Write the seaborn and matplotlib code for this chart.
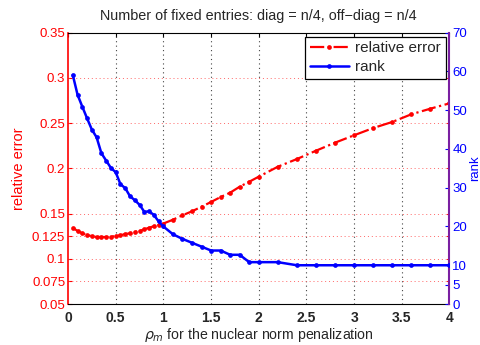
import numpy as np
import pandas as pd
import matplotlib
matplotlib.use("Agg")
import matplotlib.pyplot as plt
from matplotlib.lines import Line2D
import seaborn as sns

# penalization parameter values
rho = [0.05, 0.10, 0.15, 0.20, 0.25, 0.30, 0.35, 0.40, 0.45, 0.50,
       0.55, 0.60, 0.65, 0.70, 0.75, 0.80, 0.85, 0.90, 0.95, 1.00,
       1.1, 1.2, 1.3, 1.4, 1.5, 1.6, 1.7, 1.8, 1.9, 2.0,
       2.2, 2.4, 2.6, 2.8, 3.0, 3.2, 3.4, 3.6, 3.8, 4.0]

rel_error = [0.1344, 0.1307, 0.1282, 0.1263, 0.1249, 0.1241, 0.1241, 0.1241, 0.1244, 0.1252,
             0.1260, 0.1274, 0.1282, 0.1296, 0.1307, 0.1326, 0.1344, 0.1360, 0.1374, 0.1390,
             0.1432, 0.1481, 0.1525, 0.1576, 0.1628, 0.1683, 0.1731, 0.1797, 0.1852, 0.1908,
             0.2018, 0.2103, 0.2195, 0.2284, 0.2366, 0.2446, 0.2513, 0.2598, 0.2660, 0.2719]

rank = [59.1, 54.0, 50.9, 47.9, 45.0, 43.0, 38.9, 37.0, 35.1, 34.0,
        30.9, 29.9, 27.8, 26.8, 25.6, 23.8, 23.9, 23.0, 21.3, 20.0,
        18.0, 16.8, 15.8, 14.8, 13.8, 13.8, 12.7, 12.7, 10.8, 10.8,
        10.8, 10.0, 10.0, 10.0, 10.0, 10.0, 10.0, 10.0, 10.0, 10.0]

x_ticks = [0, 0.5, 1, 1.5, 2, 2.5, 3, 3.5, 4]
x_ticklabels = ["0", "0.5", "1", "1.5", "2", "2.5", "3", "3.5", "4"]
err_ticks = [0.05, 0.075, 0.1, 0.125, 0.15, 0.2, 0.25, 0.3, 0.35]
err_ticklabels = ["0.05", "0.075", "0.1", "0.125", "0.15", "0.2", "0.25", "0.3", "0.35"]
rank_ticks = [0, 5, 10, 20, 30, 40, 50, 60, 70]
rank_ticklabels = ["0", "5", "10", "20", "30", "40", "50", "60", "70"]

df = pd.DataFrame({"rho": rho, "err": rel_error, "rank": rank})

sns.set_style("white")
plt.rcParams["font.family"] = ["Liberation Sans", "DejaVu Sans"]

RED = "#ff0000"
BLUE = "#0000ff"
PURPLE = "#7a1fa2"

fig = plt.figure(figsize=(4.81, 3.45), dpi=100)
ax = fig.add_axes([0.1414, 0.1188, 0.7931, 0.7864])
ax2 = ax.twinx()

sns.lineplot(data=df, x="rho", y="err", ax=ax, color=RED, linestyle="-.",
             linewidth=1.6, marker="o", markersize=3.4, markeredgewidth=0,
             legend=False, zorder=3)
sns.lineplot(data=df, x="rho", y="rank", ax=ax2, color=BLUE, linestyle="-",
             linewidth=1.8, marker="o", markersize=3.4, markeredgewidth=0,
             legend=False, zorder=3)

ax.set_xlim(0, 4)
ax.set_ylim(0.05, 0.35)
ax2.set_ylim(0, 70)

ax.set_xticks(x_ticks)
ax.set_xticklabels(x_ticklabels, fontsize=10, fontweight="bold")
ax.set_yticks(err_ticks)
ax.set_yticklabels(err_ticklabels, fontsize=9.5, color=RED)
ax2.set_yticks(rank_ticks)
ax2.set_yticklabels(rank_ticklabels, fontsize=9.5, color=BLUE)

# grid: grey dotted verticals, light red dotted horizontals
for xv in x_ticks[1:-1]:
    ax.axvline(xv, color="#444444", linestyle=(0, (1, 3)), linewidth=0.8, zorder=1)
for yv in err_ticks[1:-1]:
    ax.axhline(yv, color="#ff6666", linestyle=(0, (1, 3)), linewidth=0.7, zorder=1)

ax.tick_params(axis="x", direction="in", length=3, top=True, color="black", pad=5)
ax.tick_params(axis="y", direction="in", length=3, colors=RED, right=False, pad=2)
ax2.tick_params(axis="y", direction="in", length=3, colors=BLUE, pad=2)
for yv in err_ticks:
    ax.plot([4 - 0.03, 4], [yv, yv], color=RED, linewidth=0.8, clip_on=False, zorder=4)

for side in ["top", "bottom"]:
    ax.spines[side].set_color("black")
    ax2.spines[side].set_visible(False)
ax.spines["left"].set_color(RED)
ax.spines["left"].set_linewidth(1.2)
ax.spines["right"].set_visible(False)
ax2.spines["left"].set_visible(False)
ax2.spines["right"].set_color(PURPLE)
ax2.spines["right"].set_linewidth(1.5)

ax.set_xlabel(r"$\rho_m$ for the nuclear norm penalization", fontsize=10.2, labelpad=1)
ax.set_ylabel("relative error", color=RED, fontsize=10.5, labelpad=4)
ax2.set_ylabel("rank", color=BLUE, fontsize=9.5)
ax2.yaxis.set_label_coords(1.052, 0.5)
ax.set_title("Number of fixed entries: diag = n/4, off\u2212diag = n/4", fontsize=10.4, pad=9)

handles = [
    Line2D([], [], color=RED, linestyle="-.", linewidth=1.6, marker="o", markersize=3.4, markeredgewidth=0),
    Line2D([], [], color=BLUE, linestyle="-", linewidth=1.8, marker="o", markersize=3.4, markeredgewidth=0),
]
leg = ax2.legend(handles, ["relative error", "rank"], loc="upper right", fontsize=11,
                 frameon=True, fancybox=False, edgecolor="black", framealpha=1,
                 borderpad=0.3, labelspacing=0.35, handlelength=2.6, handletextpad=0.4,
                 borderaxespad=0.25)
leg.get_frame().set_linewidth(0.9)

fig.savefig("out.png", dpi=100)
